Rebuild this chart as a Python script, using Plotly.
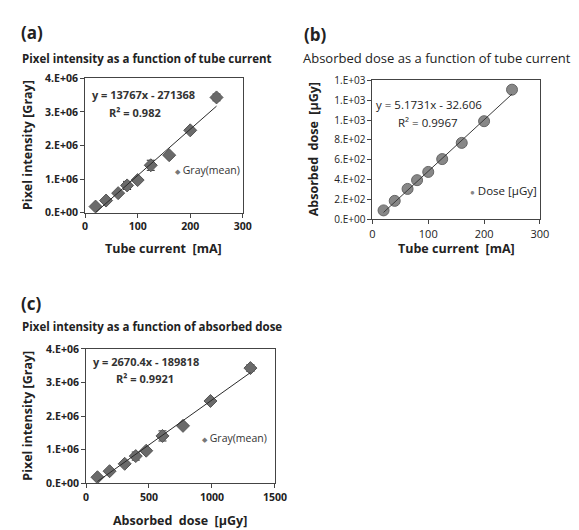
import plotly.graph_objects as go

# ---- data ----
tube_current = [20, 40, 63, 80, 100, 125, 160, 200, 250]           # mA
pixel_mean = [0.18e6, 0.36e6, 0.58e6, 0.81e6, 0.97e6, 1.41e6, 1.71e6, 2.45e6, 3.43e6]
pixel_err = [0.03e6, 0.03e6, 0.03e6, 0.12e6, 0.03e6, 0.15e6, 0.03e6, 0.06e6, 0.10e6]
dose = [91, 187, 307, 395, 478, 607, 770, 988, 1305]                # µGy

fit_a = (13767, -271368)
fit_b = (5.1731, -32.606)
fit_c = (2670.4, -189818)

ticks_a_y = [0, 1e6, 2e6, 3e6, 4e6]
ticks_a_y_txt = ["0.E+00", "1.E+06", "2.E+06", "3.E+06", "4.E+06"]
ticks_b_y = [0, 200, 400, 600, 800, 1000, 1200, 1400]
ticks_b_y_txt = ["0.E+00", "2.E+02", "4.E+02", "6.E+02", "8.E+02", "1.E+03", "1.E+03", "1.E+03"]
ticks_x_mA = [0, 100, 200, 300]
ticks_x_dose = [0, 500, 1000, 1500]

W, H = 579, 530
def px(x): return x / W
def py(y): return 1 - y / H

FONT = "Open Sans"

fig = go.Figure()

def line_pts(xs, fit):
    x0, x1 = min(xs), max(xs)
    return [x0, x1], [fit[0] * x0 + fit[1], fit[0] * x1 + fit[1]]

err = dict(type="data", array=pixel_err, color="#222222", thickness=1, width=4)

# panel a
fig.add_trace(go.Scatter(x=tube_current, y=pixel_mean, mode="markers", name="Gray(mean)",
                         marker=dict(symbol="diamond", size=10, color="#6a6a6a", line=dict(color="#555555", width=1)),
                         error_y=err, xaxis="x", yaxis="y"))
lx, ly = line_pts(tube_current, fit_a)
fig.add_trace(go.Scatter(x=lx, y=ly, mode="lines", line=dict(color="#2a2a2a", width=1),
                         xaxis="x", yaxis="y", hoverinfo="skip"))

# panel b
fig.add_trace(go.Scatter(x=tube_current, y=dose, mode="markers", name="Dose [µGy]",
                         marker=dict(symbol="circle", size=11, color="#878787", line=dict(color="#666666", width=1)),
                         xaxis="x2", yaxis="y2"))
lx, ly = line_pts(tube_current, fit_b)
fig.add_trace(go.Scatter(x=lx, y=ly, mode="lines", line=dict(color="#3a3a3a", width=1),
                         xaxis="x2", yaxis="y2", hoverinfo="skip"))

# panel c
fig.add_trace(go.Scatter(x=dose, y=pixel_mean, mode="markers", name="Gray(mean)",
                         marker=dict(symbol="diamond", size=10, color="#6a6a6a", line=dict(color="#555555", width=1)),
                         error_y=err, xaxis="x3", yaxis="y3"))
lx, ly = line_pts(dose, fit_c)
fig.add_trace(go.Scatter(x=lx, y=ly, mode="lines", line=dict(color="#2a2a2a", width=1),
                         xaxis="x3", yaxis="y3", hoverinfo="skip"))

def ax(domain, rng, tickvals, ticktext=None, bold=True, anchor=None, size=10.5):
    d = dict(domain=domain, range=rng, tickvals=tickvals, showgrid=False, zeroline=False,
             showline=True, linecolor="#444444", linewidth=1, mirror=True,
             ticks="outside", ticklen=4, tickcolor="#444444", tickwidth=1,
             tickfont=dict(family=FONT, size=size, color="#222222", weight="bold" if bold else "normal"),
             anchor=anchor, fixedrange=True)
    if ticktext is not None:
        d["ticktext"] = ticktext
    return d

fig.update_layout(
    width=W, height=H, margin=dict(l=0, r=0, t=0, b=0),
    paper_bgcolor="white", plot_bgcolor="white", showlegend=False,
    xaxis=ax([px(76), px(238)], [0, 300], ticks_x_mA, anchor="y"),
    yaxis=ax([py(203), py(65)], [0, 4e6], ticks_a_y, ticks_a_y_txt, anchor="x"),
    xaxis2=ax([px(371), px(543)], [0, 300], ticks_x_mA, bold=False, anchor="y2", size=11),
    yaxis2=ax([py(210), py(67)], [0, 1400], ticks_b_y, ticks_b_y_txt, bold=False, anchor="x2", size=10),
    xaxis3=ax([px(77), px(271)], [0, 1500], ticks_x_dose, anchor="y3"),
    yaxis3=ax([py(481), py(343)], [0, 4e6], ticks_a_y, ticks_a_y_txt, anchor="x3"),
)

def ann(text, x, y, size=11, bold=False, xanchor="left", angle=0, color="#222222"):
    fig.add_annotation(text=text, x=px(x), y=py(y), xref="paper", yref="paper", showarrow=False,
                       xanchor=xanchor, yanchor="middle", textangle=angle,
                       font=dict(family=FONT, size=size, color=color, weight="bold" if bold else "normal"))

# panel labels and titles
ann("(a)", 8, 18, size=17, bold=True)
ann("Pixel intensity as a function of tube current", 9, 45, size=11.5, bold=True)
ann("(b)", 299, 20, size=17, bold=True)
ann("Absorbed dose as a function of tube current", 298, 44, size=13)
ann("(c)", 8, 296, size=17, bold=True)
ann("Pixel intensity as a function of absorbed dose", 9, 320, size=11.5, bold=True)

# axis titles
ann("Pixel intensity [Gray]", 17, 134, size=12.5, bold=True, xanchor="center", angle=-90)
ann("Tube current  [mA]", 157, 240, size=12.5, bold=True, xanchor="center")
ann("Absorbed  dose  [µGy]", 310, 138, size=12.5, bold=True, xanchor="center", angle=-90)
ann("Tube current  [mA]", 457, 240, size=12.5, bold=True, xanchor="center")
ann("Pixel intensity [Gray]", 17, 412, size=12.5, bold=True, xanchor="center", angle=-90)
ann("Absorbed  dose  [µGy]", 174, 519, size=12.5, bold=True, xanchor="center")

# legends (symbol + series name as text)
ann("<span style='font-size:7px;color:#777777'>◆</span> Gray(mean)", 166, 159, size=10.5, color="#333333")
ann("<span style='font-size:8px;color:#888888'>●</span> Dose [µGy]", 469, 180, size=11.5, color="#222222")
ann("<span style='font-size:7px;color:#777777'>◆</span> Gray(mean)", 194, 434, size=10.5, color="#333333")

# trendline equations
ann("y = 13767x - 271368", 81, 82, size=11, bold=True, color="#333333")
ann("R² = 0.982", 99, 100, size=11, bold=True, color="#333333")
ann("y = 5.1731x - 32.606", 373, 92, size=11.5, color="#222222")
ann("R² = 0.9967", 395, 110, size=11.5, color="#222222")
ann("y = 2670.4x - 189818", 82, 356, size=11, bold=True, color="#333333")
ann("R² = 0.9921", 106, 373, size=11, bold=True, color="#333333")

fig.write_html("out.html")
